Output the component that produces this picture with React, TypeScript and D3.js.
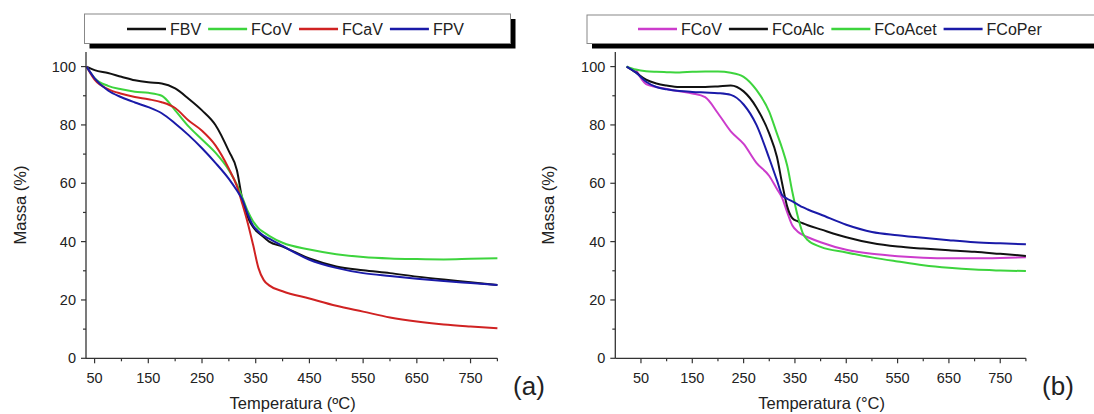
import React from 'react';
import * as d3 from 'd3';

// ---------- data (a) ----------
const tempsA = [35, 50, 75, 100, 125, 150, 175, 200, 225, 250, 275, 300, 315, 325, 335, 345, 355, 365, 375, 400, 450, 500, 550, 600, 650, 700, 750, 800];
const massFBV = [100, 98.8, 97.8, 96.5, 95.3, 94.6, 94.2, 92.5, 89, 85, 80, 71, 64.5, 54.5, 48.5, 45, 43, 41.5, 40, 38.3, 34.2, 31.5, 30.2, 29.2, 28, 27, 26.1, 25.1];
const massFCoVa = [100, 96, 93.4, 92.2, 91.4, 91, 90, 85, 79.5, 75, 70.5, 64.5, 59.5, 55.2, 50.5, 47, 44.6, 43.2, 42, 39.6, 37.3, 35.7, 34.7, 34.2, 34, 33.9, 34.1, 34.3];
const massFCaV = [100, 95.5, 92.3, 90.7, 89.6, 88.8, 87.8, 85.8, 81.5, 78, 73, 65, 59, 53, 46.5, 39, 31, 26.8, 25, 23, 20.5, 18, 16, 14, 12.6, 11.6, 10.9, 10.3];
const massFPV = [100, 96, 91.8, 89.5, 87.7, 86.1, 84, 80.5, 76.5, 72, 67, 61.5, 57.5, 54.5, 49.5, 45.5, 43.5, 42, 41, 38.5, 33.8, 31, 29.2, 28.2, 27.3, 26.5, 25.8, 25.1];

// ---------- data (b) ----------
const tempsB = [22, 40, 60, 80, 100, 125, 150, 175, 200, 225, 250, 275, 300, 315, 325, 335, 345, 355, 365, 375, 400, 450, 500, 550, 600, 650, 700, 750, 800];
const massFCoVb = [null, 99, 94, 93, 92.3, 91.5, 90.8, 89.5, 84, 77.8, 73.5, 67, 62.5, 58, 55, 50, 45.5, 43.5, 42.3, 41.5, 39.8, 37.2, 35.8, 35, 34.5, 34.3, 34.3, 34.4, 34.6];
const massFCoAlc = [100, 98, 95.5, 94.2, 93.5, 93, 93, 93, 93.2, 93.5, 91.5, 86, 77, 69, 60, 52, 48, 47, 46.3, 45.6, 44.2, 41.5, 39.5, 38.3, 37.6, 37, 36.5, 35.8, 35.1];
const massFCoAcet = [100, 99, 98.4, 98.2, 98.1, 98, 98.2, 98.3, 98.3, 97.9, 96.5, 92, 84.5, 77, 72, 66, 57, 49, 43, 40.5, 38.2, 36.3, 34.6, 33.2, 31.9, 31, 30.4, 30.1, 29.9];
const massFCoPer = [100, 98, 94.8, 93, 92.2, 91.6, 91.3, 91.1, 90.9, 90.3, 87, 80, 68.5, 61, 56, 54.7, 53.8, 52.8, 51.8, 51, 49.3, 45.8, 43.3, 42.2, 41.3, 40.5, 39.8, 39.4, 39.1];

// ---------- ticks ----------
const xMajorTicks = [50, 150, 250, 350, 450, 550, 650, 750];
const xMinorTicks = [100, 200, 300, 400, 500, 600, 700, 800];
const yMajorTicks = [0, 20, 40, 60, 80, 100];
const yMinorTicks = [10, 30, 50, 70, 90];

const FONT = '"Liberation Sans", Arial, Helvetica, sans-serif';

type Series = { name: string; color: string; values: (number | null)[] };

const seriesA: Series[] = [
  { name: 'FBV', color: '#111111', values: massFBV },
  { name: 'FCoV', color: '#3dd43d', values: massFCoVa },
  { name: 'FCaV', color: '#d02222', values: massFCaV },
  { name: 'FPV', color: '#1a1aa8', values: massFPV },
];
const seriesB: Series[] = [
  { name: 'FCoV', color: '#cc3ccc', values: massFCoVb },
  { name: 'FCoAlc', color: '#111111', values: massFCoAlc },
  { name: 'FCoAcet', color: '#3dd43d', values: massFCoAcet },
  { name: 'FCoPer', color: '#1a1aa8', values: massFCoPer },
];

let ctx: CanvasRenderingContext2D | null = null;
function textWidth(t: string, size: number) {
  if (!ctx) ctx = document.createElement('canvas').getContext('2d');
  if (!ctx) return t.length * size * 0.55;
  ctx.font = `${size}px "Liberation Sans", Arial, sans-serif`;
  return ctx.measureText(t).width;
}

type PanelProps = {
  temps: number[];
  series: Series[];
  xDomain: [number, number];
  xRange: [number, number];
  yTitleX: number;
  xTitle: string;
  letter: string;
  letterX: number;
  legendBox: { x: number; y: number; w: number; h: number };
  legendStart: number;
};

function Panel(p: PanelProps) {
  const x = d3.scaleLinear().domain(p.xDomain).range(p.xRange);
  const y = d3.scaleLinear().domain([0, 105]).range([358.3, 52]);
  const x0 = p.xRange[0];
  const y0 = y(0);
  const axisColor = '#333';
  const line = d3
    .line<[number, number | null]>()
    .defined((d) => d[1] != null)
    .x((d) => x(d[0]))
    .y((d) => y(d[1] as number))
    .curve(d3.curveMonotoneX);

  // legend layout
  const items: { s: Series; lx: number; tx: number }[] = [];
  let cx = p.legendStart;
  for (const s of p.series) {
    items.push({ s, lx: cx, tx: cx + 43 });
    cx = cx + 43 + textWidth(s.name, 16) + 7;
  }
  const lb = p.legendBox;
  const xMid = (p.xRange[0] + p.xRange[1]) / 2;

  return (
    <g>
      {/* legend */}
      <rect x={lb.x + 5} y={lb.y + 5} width={lb.w} height={lb.h} fill="#000" />
      <rect x={lb.x} y={lb.y} width={lb.w} height={lb.h} fill="#fff" stroke="#888" strokeWidth={1} />
      {items.map((it) => (
        <g key={it.s.name}>
          <line x1={it.lx} x2={it.lx + 39} y1={29} y2={29} stroke={it.s.color} strokeWidth={2.5} />
          <text x={it.tx} y={35} fontSize={16} fontFamily={FONT} fill="#222">
            {it.s.name}
          </text>
        </g>
      ))}

      {/* curves */}
      {p.series.map((s) => (
        <path
          key={s.name}
          d={line(p.temps.map((t, i) => [t, s.values[i]] as [number, number | null])) || ''}
          fill="none"
          stroke={s.color}
          strokeWidth={2}
          strokeLinejoin="round"
        />
      ))}

      {/* axes */}
      <line x1={x0} x2={x0} y1={y(105)} y2={y0} stroke={axisColor} strokeWidth={1.3} />
      <line x1={x0} x2={p.xRange[1]} y1={y0} y2={y0} stroke={axisColor} strokeWidth={1.3} />
      {xMajorTicks.map((t) => (
        <g key={'xm' + t}>
          <line x1={x(t)} x2={x(t)} y1={y0} y2={y0 + 5} stroke={axisColor} strokeWidth={1.2} />
          <text x={x(t)} y={383} textAnchor="middle" fontSize={14.5} fontFamily={FONT} fill="#222">
            {t}
          </text>
        </g>
      ))}
      {xMinorTicks.map((t) => (
        <line key={'xn' + t} x1={x(t)} x2={x(t)} y1={y0} y2={y0 + 3} stroke={axisColor} strokeWidth={1.2} />
      ))}
      {yMajorTicks.map((t) => (
        <g key={'ym' + t}>
          <line x1={x0 - 5} x2={x0} y1={y(t)} y2={y(t)} stroke={axisColor} strokeWidth={1.2} />
          <text x={x0 - 10} y={y(t) + 5} textAnchor="end" fontSize={14.5} fontFamily={FONT} fill="#222">
            {t}
          </text>
        </g>
      ))}
      {yMinorTicks.map((t) => (
        <line key={'yn' + t} x1={x0 - 3} x2={x0} y1={y(t)} y2={y(t)} stroke={axisColor} strokeWidth={1.2} />
      ))}

      {/* titles */}
      <text
        transform={`translate(${p.yTitleX},205) rotate(-90)`}
        textAnchor="middle"
        fontSize={16.5}
        fontFamily={FONT}
        fill="#222"
      >
        Massa (%)
      </text>
      <text x={xMid + 1} y={409} textAnchor="middle" fontSize={16.5} fontFamily={FONT} fill="#222">
        {p.xTitle}
      </text>
      <text x={p.letterX} y={395} textAnchor="middle" fontSize={26} fontFamily={FONT} fill="#222">
        {p.letter}
      </text>
    </g>
  );
}

export default function App() {
  return (
    <svg
      width={1094}
      height={414}
      viewBox="0 0 1094 414"
      style={{ position: 'absolute', left: 0, top: 0, background: '#fff' }}
    >
      <rect x={0} y={0} width={1094} height={414} fill="#fff" />
      <Panel
        temps={tempsA}
        series={seriesA}
        xDomain={[34, 800]}
        xRange={[86, 497.4]}
        yTitleX={26}
        xTitle="Temperatura (ºC)"
        letter="(a)"
        letterX={529}
        legendBox={{ x: 84.5, y: 14, w: 426, h: 29.5 }}
        legendStart={127}
      />
      <Panel
        temps={tempsB}
        series={seriesB}
        xDomain={[0, 800]}
        xRange={[615.3, 1025.9]}
        yTitleX={554}
        xTitle="Temperatura (°C)"
        letter="(b)"
        letterX={1058}
        legendBox={{ x: 587, y: 15, w: 530, h: 28.5 }}
        legendStart={638}
      />
    </svg>
  );
}
